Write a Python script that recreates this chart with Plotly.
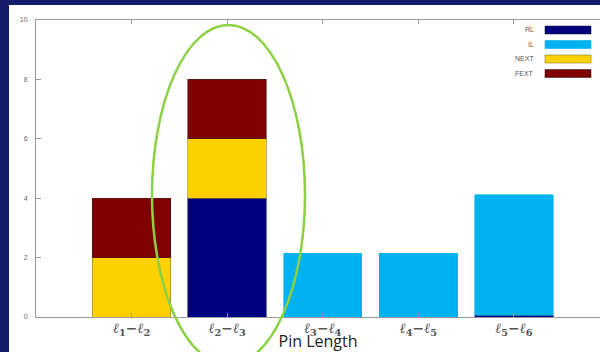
import plotly.graph_objects as go

categories = ["l1-l2", "l2-l3", "l3-l4", "l4-l5", "l5-l6"]
tick_labels = ["<b><i>ℓ</i><sub>1</sub>−<i>ℓ</i><sub>2</sub></b>",
               "<b><i>ℓ</i><sub>2</sub>−<i>ℓ</i><sub>3</sub></b>",
               "<b><i>ℓ</i><sub>3</sub>−<i>ℓ</i><sub>4</sub></b>",
               "<b><i>ℓ</i><sub>4</sub>−<i>ℓ</i><sub>5</sub></b>",
               "<b><i>ℓ</i><sub>5</sub>−<i>ℓ</i><sub>6</sub></b>"]
series_names = ["RL", "IL", "NEXT", "FEXT"]
rl = [None, 4, None, None, 0.06]
il = [None, None, 2.15, 2.15, 4.05]
next_ = [2, 2, None, None, None]
fext = [2, 2, None, None, None]
y_ticks = [0, 2, 4, 6, 8, 10]

colors = {"RL": "#00007f", "IL": "#00b2ef", "NEXT": "#fdd000", "FEXT": "#7f0000"}
outline = {"RL": "#2a2a40", "IL": "#00b2ef", "NEXT": "#8a7a30", "FEXT": "#402020"}
values = {"RL": rl, "IL": il, "NEXT": next_, "FEXT": fext}

x_idx = list(range(len(categories)))
fig = go.Figure()
for name in series_names:
    fig.add_trace(go.Bar(x=x_idx, y=values[name], name=name,
                         marker=dict(color=colors[name],
                                     line=dict(color=outline[name], width=0.6)),
                         showlegend=False))

W, H = 600, 352
ml, mr, mt, mb = 36, 0, 20, 35
pw, ph = W - ml - mr, H - mt - mb

def px(x):
    return (x - ml) / pw

def py(y):
    return (H - mb - y) / ph

shapes = [
    dict(type="rect", xref="paper", yref="paper", x0=px(9), x1=px(605), y0=py(360), y1=py(5),
         fillcolor="white", line=dict(width=0), layer="below"),
    dict(type="circle", xref="paper", yref="paper", x0=px(152), x1=px(305), y0=py(365), y1=py(25),
         line=dict(color="#8cd044", width=2.5), fillcolor="rgba(0,0,0,0)", layer="above"),
]
annotations = []
for i, name in enumerate(series_names):
    yc = 30 + i * 14.5
    shapes.append(dict(type="rect", xref="paper", yref="paper", x0=px(545), x1=px(591),
                       y0=py(yc + 4), y1=py(yc - 4), fillcolor=colors[name],
                       line=dict(color=outline[name], width=0.6)))
    annotations.append(dict(xref="paper", yref="paper", x=px(536), y=py(yc), text=name,
                            showarrow=False, xanchor="right", yanchor="middle",
                            font=dict(size=7, color="#555", family="Liberation Sans")))

fig.update_layout(
    width=W, height=H,
    margin=dict(l=ml, r=mr, t=mt, b=mb),
    paper_bgcolor="#131d6b", plot_bgcolor="white",
    barmode="stack", bargap=0.18,
    shapes=shapes, annotations=annotations,
    xaxis=dict(range=[-1, 4.9], tickvals=x_idx, ticktext=tick_labels,
               showline=True, linecolor="#999", linewidth=1, mirror="ticks",
               ticks="inside", ticklen=4, tickcolor="#999", showgrid=False, zeroline=False,
               automargin=False, ticklabelstandoff=-2,
               tickfont=dict(size=14, color="#555", family="DejaVu Serif"),
               title=dict(text="Pin Length", standoff=0,
                          font=dict(size=16, color="#222", family="Open Sans"))),
    yaxis=dict(range=[0, 10], tickvals=y_ticks, showline=True, linecolor="#999", linewidth=1,
               ticks="inside", ticklen=5, tickcolor="#999", showgrid=False, zeroline=False,
               ticklabelstandoff=6, automargin=False,
               tickfont=dict(size=7, color="#666", family="Liberation Sans")),
)

fig.write_html("out.html", config={"displayModeBar": False},
               post_script="document.body.style.margin='0';document.body.style.overflow='hidden';")
